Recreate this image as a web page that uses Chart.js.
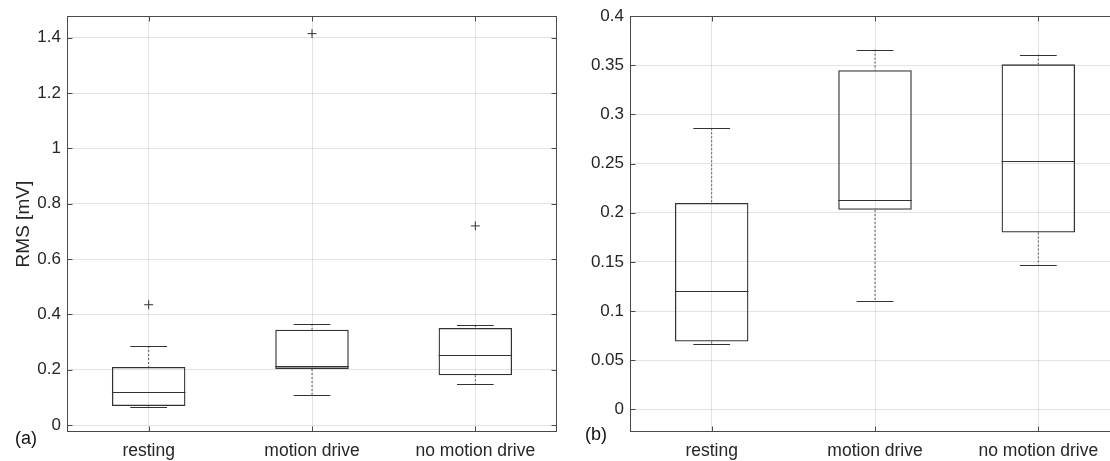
<!DOCTYPE html>
<html>
<head>
<meta charset="utf-8">
<script src="https://cdn.jsdelivr.net/npm/chart.js@4/dist/chart.umd.min.js"></script>
<style>
    html, body { margin: 0; padding: 0; background: #fff; overflow: hidden; }
    .panel { position: absolute; top: 0; height: 461px; }
    #panelA { left: 0; width: 600px; }
    #panelB { left: 560px; width: 570px; }
    .tag { position: absolute; font: 18px 'Liberation Sans', Arial, sans-serif; color: #111; }
</style>
</head>
<body>
<div class="panel" id="panelA"><canvas id="chartA"></canvas></div>
<div class="panel" id="panelB"><canvas id="chartB"></canvas></div>
<div class="tag" style="left:15px; top:428px;">(a)</div>
<div class="tag" style="left:585px; top:424px;">(b)</div>
<script>
// Box plot summary per group (RMS in mV)
const categories = ['resting', 'motion drive', 'no motion drive'];
const q1 = [0.069, 0.203, 0.180];
const median = [0.120, 0.213, 0.253];
const q3 = [0.210, 0.345, 0.351];
const whiskerLow = [0.067, 0.110, 0.147];
const whiskerHigh = [0.286, 0.366, 0.361];
const outliers = [0.435, 1.415, 0.720];

const leftTicks = [0, 0.2, 0.4, 0.6, 0.8, 1, 1.2, 1.4];
const leftTickLabels = ['0', '0.2', '0.4', '0.6', '0.8', '1', '1.2', '1.4'];
const rightTicks = [0, 0.05, 0.1, 0.15, 0.2, 0.25, 0.3, 0.35, 0.4];
const rightTickLabels = ['0', '0.05', '0.1', '0.15', '0.2', '0.25', '0.3', '0.35', '0.4'];

const BOX_WIDTH = 0.45;
const CAP_WIDTH = 0.225;
const FONT = "'Liberation Sans', Arial, sans-serif";
const TEXT = '#262626';
const GRID = 'rgba(0,0,0,0.11)';

// medians, whiskers, frame and inward ticks
const boxPlotLines = {
    id: 'boxPlotLines',
    afterDatasetsDraw(chart) {
        const xs = chart.scales.x, ys = chart.scales.y, a = chart.chartArea, ctx = chart.ctx;
        ctx.save();
        ctx.beginPath();
        ctx.rect(a.left, a.top, a.right - a.left, a.bottom - a.top);
        ctx.clip();
        ctx.lineWidth = 1;
        categories.forEach((c, i) => {
            const cx = xs.getPixelForValue(i);
            const capHalf = xs.getPixelForValue(i + CAP_WIDTH / 2) - cx;
            const boxHalf = xs.getPixelForValue(i + BOX_WIDTH / 2) - cx;

            ctx.strokeStyle = '#555';
            ctx.setLineDash([2, 2]);
            ctx.beginPath();
            ctx.moveTo(cx, ys.getPixelForValue(whiskerHigh[i]));
            ctx.lineTo(cx, ys.getPixelForValue(q3[i]));
            ctx.moveTo(cx, ys.getPixelForValue(q1[i]));
            ctx.lineTo(cx, ys.getPixelForValue(whiskerLow[i]));
            ctx.stroke();

            ctx.setLineDash([]);
            ctx.strokeStyle = '#333';
            ctx.beginPath();
            [whiskerHigh[i], whiskerLow[i]].forEach(v => {
                const py = Math.round(ys.getPixelForValue(v)) + 0.5;
                ctx.moveTo(cx - capHalf, py);
                ctx.lineTo(cx + capHalf, py);
            });
            const my = Math.round(ys.getPixelForValue(median[i])) + 0.5;
            ctx.moveTo(cx - boxHalf, my);
            ctx.lineTo(cx + boxHalf, my);
            ctx.stroke();
        });
        ctx.restore();
    },
    afterDraw(chart) {
        const xs = chart.scales.x, ys = chart.scales.y, a = chart.chartArea, ctx = chart.ctx;
        const l = Math.round(a.left) + 0.5, r = Math.round(a.right) - 0.5;
        const t = Math.round(a.top) + 0.5, b = Math.round(a.bottom) - 0.5;
        ctx.save();
        ctx.strokeStyle = '#4a4a4a';
        ctx.lineWidth = 1;
        ctx.strokeRect(l, t, r - l, b - t);
        ctx.beginPath();
        categories.forEach((c, i) => {
            const px = Math.round(xs.getPixelForValue(i)) + 0.5;
            ctx.moveTo(px, b); ctx.lineTo(px, b - 5);
            ctx.moveTo(px, t); ctx.lineTo(px, t + 5);
        });
        ys.ticks.forEach(tk => {
            const py = Math.round(ys.getPixelForValue(tk.value)) + 0.5;
            ctx.moveTo(l, py); ctx.lineTo(l + 5, py);
            ctx.moveTo(r, py); ctx.lineTo(r - 5, py);
        });
        ctx.stroke();
        ctx.restore();
    }
};

function makeBoxChart(id, cfg) {
    return new Chart(document.getElementById(id), {
        type: 'bar',
        data: {
            labels: categories,
            datasets: [{
                label: 'box',
                data: categories.map((c, i) => [q1[i], q3[i]]),
                backgroundColor: 'rgba(0,0,0,0)',
                borderColor: '#333',
                borderWidth: 1.3,
                borderSkipped: false,
                barPercentage: BOX_WIDTH,
                categoryPercentage: 1
            }, {
                type: 'line',
                label: 'outliers',
                data: outliers,
                showLine: false,
                pointStyle: 'cross',
                pointRadius: 4.5,
                pointBorderWidth: 1,
                pointBorderColor: '#333'
            }]
        },
        options: {
            responsive: true,
            maintainAspectRatio: false,
            animation: false,
            events: [],
            layout: { padding: cfg.padding },
            plugins: { legend: { display: false }, tooltip: { enabled: false } },
            scales: {
                x: {
                    grid: { offset: false, color: GRID, drawTicks: false },
                    border: { display: false },
                    ticks: { color: TEXT, font: { family: FONT, size: 17.5 }, padding: 9, maxRotation: 0 },
                    afterFit: s => { s.height = 29; }
                },
                y: {
                    min: cfg.min,
                    max: cfg.max,
                    grid: { color: GRID, drawTicks: false },
                    border: { display: false },
                    ticks: {
                        color: TEXT,
                        font: { family: FONT, size: 17 },
                        padding: 6,
                        callback: (v, i) => cfg.tickLabels[i]
                    },
                    afterBuildTicks: s => { s.ticks = cfg.ticks.map(v => ({ value: v })); },
                    title: cfg.title ? {
                        display: true,
                        text: cfg.title,
                        color: TEXT,
                        font: { family: FONT, size: 19 },
                        padding: { top: 12, bottom: 0 }
                    } : { display: false },
                    afterFit: s => { s.width = cfg.axisWidth; }
                }
            }
        },
        plugins: [boxPlotLines]
    });
}

document.addEventListener('DOMContentLoaded', function () {
    makeBoxChart('chartA', {
        min: -0.025, max: 1.478,
        ticks: leftTicks, tickLabels: leftTickLabels,
        title: 'RMS [mV]',
        axisWidth: 67,
        padding: { top: 13, right: 43, bottom: 0, left: 0 }
    });
    makeBoxChart('chartB', {
        min: -0.023, max: 0.4,
        ticks: rightTicks, tickLabels: rightTickLabels,
        title: null,
        axisWidth: 70,
        padding: { top: 14, right: 10, bottom: 0, left: 0 }
    });
});
</script>
</body>
</html>
